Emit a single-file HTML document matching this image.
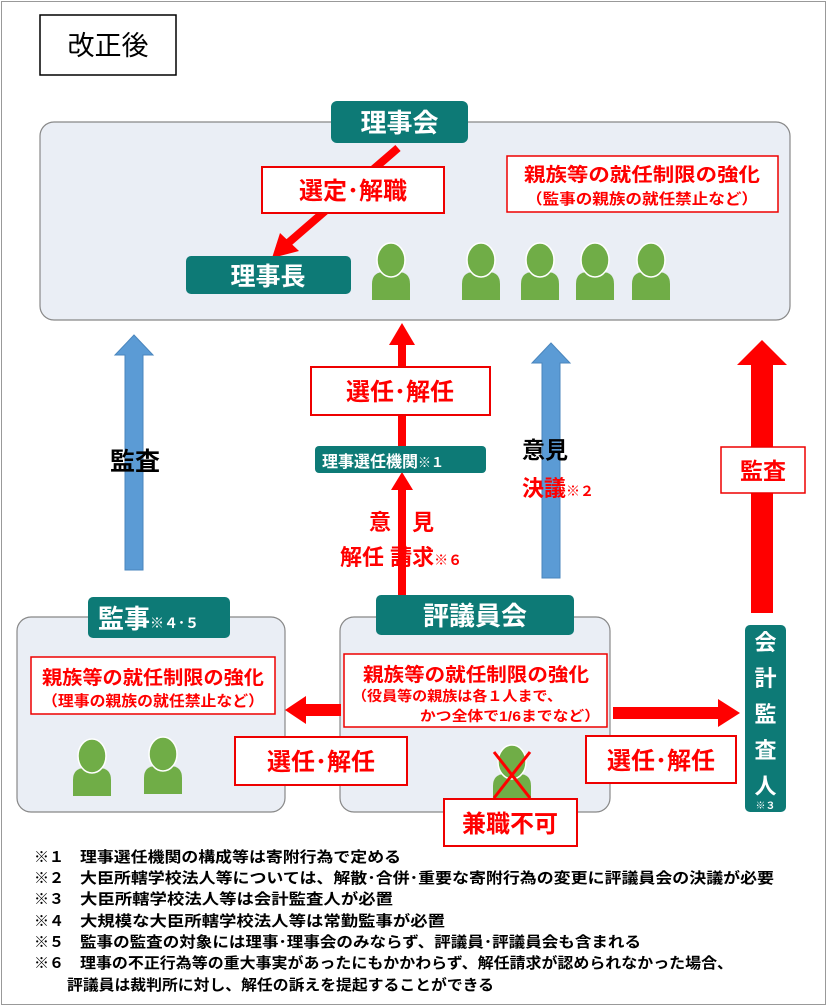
<!DOCTYPE html>
<html><head><meta charset="utf-8"><style>
html,body{margin:0;padding:0;background:#fff}
svg{display:block}
text{font-family:"Liberation Sans","Noto Sans CJK JP",sans-serif;font-weight:bold}
</style></head><body>
<svg width="827" height="1006" viewBox="0 0 827 1006" xmlns="http://www.w3.org/2000/svg">
<defs>
<g id="p"><path d="M-19 26 V10 Q-19 -2 -7 -2 H7 Q19 -2 19 10 V26 Z" fill="#70ad47"/><ellipse cx="0" cy="-14" rx="14" ry="17" fill="#70ad47" stroke="#fff" stroke-width="1.5"/></g>
</defs>
<rect x="1.5" y="1.5" width="824" height="1003" fill="#fff" stroke="#999"/>
<rect x="40" y="15" width="136" height="60" fill="#fff" stroke="#000" stroke-width="1.5"/>
<text x="108" y="55" font-size="27" style="font-weight:normal" text-anchor="middle">改正後</text>

<rect x="40" y="122" width="750" height="198" rx="14" fill="#eaeef5" stroke="#888" stroke-width="1.2"/>
<rect x="331" y="101" width="137" height="42" rx="6" fill="#0d7a76"/>
<text x="399.5" y="132" font-size="26" fill="#fff" text-anchor="middle">理事会</text>
<line x1="398" y1="148" x2="287" y2="244" stroke="#f00" stroke-width="8"/>
<polygon points="272,258 280,233 299,251" fill="#f00"/>
<rect x="262" y="167" width="182" height="46" fill="#fff" stroke="#e00" stroke-width="2"/>
<text x="353" y="199" font-size="24" fill="#f00" text-anchor="middle">選定･解職</text>
<rect x="507" y="156" width="271" height="56" fill="#fff" stroke="#e00" stroke-width="1.5"/>
<text x="642" y="181" font-size="19" fill="#f00" text-anchor="middle" textLength="236" lengthAdjust="spacingAndGlyphs">親族等の就任制限の強化</text>
<text x="642" y="204" font-size="15" fill="#f00" text-anchor="middle" textLength="232" lengthAdjust="spacingAndGlyphs">（監事の親族の就任禁止など）</text>
<rect x="186" y="256" width="165" height="38" rx="5" fill="#0d7a76"/>
<text x="268" y="285" font-size="25" fill="#fff" text-anchor="middle">理事長</text>
<use href="#p" x="391" y="274"/>
<use href="#p" x="481" y="274"/>
<use href="#p" x="540" y="274"/>
<use href="#p" x="595" y="274"/>
<use href="#p" x="651" y="274"/>

<polygon points="125,570 143,570 143,355 153,355 134,335 115,355 125,355" fill="#5b9bd5" stroke="#4a86bd"/>
<polygon points="542,578 560,578 560,363 570,363 551,343 532,363 542,363" fill="#5b9bd5" stroke="#4a86bd"/>
<text x="110" y="470" font-size="25" fill="#000">監査</text>
<text x="522" y="458" font-size="23" fill="#000">意見</text>
<text x="522" y="496" font-size="22" fill="#f00">決議<tspan font-size="14">※２</tspan></text>

<rect x="398" y="340" width="8" height="107" fill="#f00"/>
<polygon points="389,345 415,345 402,323" fill="#f00"/>
<rect x="398" y="485" width="8" height="112" fill="#f00"/>
<polygon points="391,490 413,490 402,472" fill="#f00"/>
<rect x="311" y="367" width="179" height="48" fill="#fff" stroke="#e00" stroke-width="2"/>
<text x="400" y="400" font-size="24" fill="#f00" text-anchor="middle">選任･解任</text>
<rect x="315" y="446" width="171" height="27" rx="4" fill="#0d7a76"/>
<text x="322" y="467" font-size="16" fill="#fff">理事選任機関<tspan font-size="13">※１</tspan></text>
<text x="380" y="530" font-size="22" fill="#f00" text-anchor="middle">意</text>
<text x="423" y="530" font-size="22" fill="#f00" text-anchor="middle">見</text>
<text x="340" y="565" font-size="22" fill="#f00">解任 請求<tspan font-size="14">※６</tspan></text>

<rect x="751" y="365" width="22" height="248" fill="#f00"/>
<polygon points="737,365 787,365 762,340" fill="#f00"/>
<rect x="721" y="447" width="84" height="46" fill="#fff" stroke="#e00" stroke-width="1.5"/>
<text x="763" y="479" font-size="23" fill="#f00" text-anchor="middle">監査</text>

<rect x="17" y="617" width="268" height="195" rx="14" fill="#eaeef5" stroke="#888" stroke-width="1.2"/>
<rect x="340" y="617" width="270" height="195" rx="14" fill="#eaeef5" stroke="#888" stroke-width="1.2"/>
<rect x="88" y="597" width="142" height="41" rx="5" fill="#0d7a76"/>
<text x="98" y="628" font-size="26" fill="#fff">監事<tspan font-size="14">※４･５</tspan></text>
<rect x="376" y="595" width="198" height="40" rx="5" fill="#0d7a76"/>
<text x="475" y="625" font-size="26" fill="#fff" text-anchor="middle">評議員会</text>
<rect x="745" y="625" width="41" height="187" rx="5" fill="#0d7a76"/>
<g font-size="22" fill="#fff" text-anchor="middle">
<text x="765.5" y="650">会</text>
<text x="765.5" y="686">計</text>
<text x="765.5" y="722">監</text>
<text x="765.5" y="758">査</text>
<text x="765.5" y="794">人</text>
</g>
<text x="765.5" y="809" font-size="10" fill="#fff" text-anchor="middle">※３</text>

<rect x="31" y="657" width="244" height="57" fill="#fff" stroke="#e00" stroke-width="1.5"/>
<text x="153" y="684" font-size="19" fill="#f00" text-anchor="middle" textLength="222" lengthAdjust="spacingAndGlyphs">親族等の就任制限の強化</text>
<text x="153" y="706" font-size="15" fill="#f00" text-anchor="middle" textLength="222" lengthAdjust="spacingAndGlyphs">（理事の親族の就任禁止など）</text>
<rect x="344" y="654" width="263" height="73" fill="#fff" stroke="#e00" stroke-width="1.5"/>
<text x="476" y="681" font-size="19" fill="#f00" text-anchor="middle" textLength="226" lengthAdjust="spacingAndGlyphs">親族等の就任制限の強化</text>
<text x="352" y="701" font-size="14" fill="#f00" textLength="210" lengthAdjust="spacingAndGlyphs">（役員等の親族は各１人まで、</text>
<text x="420" y="721" font-size="14" fill="#f00" textLength="180" lengthAdjust="spacingAndGlyphs">かつ全体で1/6までなど）</text>

<rect x="305" y="704" width="36" height="12" fill="#f00"/>
<polygon points="306,696 306,724 285,710" fill="#f00"/>
<rect x="613" y="707" width="107" height="12" fill="#f00"/>
<polygon points="718,699 718,727 740,713" fill="#f00"/>

<rect x="235" y="737" width="172" height="48" fill="#fff" stroke="#e00" stroke-width="2"/>
<text x="321" y="770" font-size="24" fill="#f00" text-anchor="middle">選任･解任</text>
<rect x="586" y="736" width="150" height="47" fill="#fff" stroke="#e00" stroke-width="2"/>
<text x="661" y="769" font-size="24" fill="#f00" text-anchor="middle">選任･解任</text>

<use href="#p" x="92" y="770"/>
<use href="#p" x="163" y="768"/>
<use href="#p" x="512" y="776"/>
<line x1="494" y1="752" x2="530" y2="798" stroke="#f00" stroke-width="3"/>
<line x1="530" y1="752" x2="494" y2="798" stroke="#f00" stroke-width="3"/>
<rect x="444" y="799" width="133" height="47" fill="#fff" stroke="#e00" stroke-width="2"/>
<text x="510" y="832" font-size="24" fill="#f00" text-anchor="middle">兼職不可</text>

<g font-size="15" fill="#000">
<text x="34" y="862">※１</text><text x="80" y="862" textLength="321" lengthAdjust="spacingAndGlyphs">理事選任機関の構成等は寄附行為で定める</text>
<text x="34" y="883">※２</text><text x="80" y="883" textLength="694" lengthAdjust="spacingAndGlyphs">大臣所轄学校法人等については、解散･合併･重要な寄附行為の変更に評議員会の決議が必要</text>
<text x="34" y="904">※３</text><text x="80" y="904" textLength="313" lengthAdjust="spacingAndGlyphs">大臣所轄学校法人等は会計監査人が必置</text>
<text x="34" y="926">※４</text><text x="80" y="926" textLength="365" lengthAdjust="spacingAndGlyphs">大規模な大臣所轄学校法人等は常勤監事が必置</text>
<text x="34" y="947">※５</text><text x="80" y="947" textLength="561" lengthAdjust="spacingAndGlyphs">監事の監査の対象には理事･理事会のみならず、評議員･評議員会も含まれる</text>
<text x="34" y="968">※６</text><text x="80" y="968" textLength="653" lengthAdjust="spacingAndGlyphs">理事の不正行為等の重大事実があったにもかかわらず、解任請求が認められなかった場合、</text>
<text x="67" y="990" textLength="427" lengthAdjust="spacingAndGlyphs">評議員は裁判所に対し、解任の訴えを提起することができる</text>
</g>
</svg>
</body></html>
